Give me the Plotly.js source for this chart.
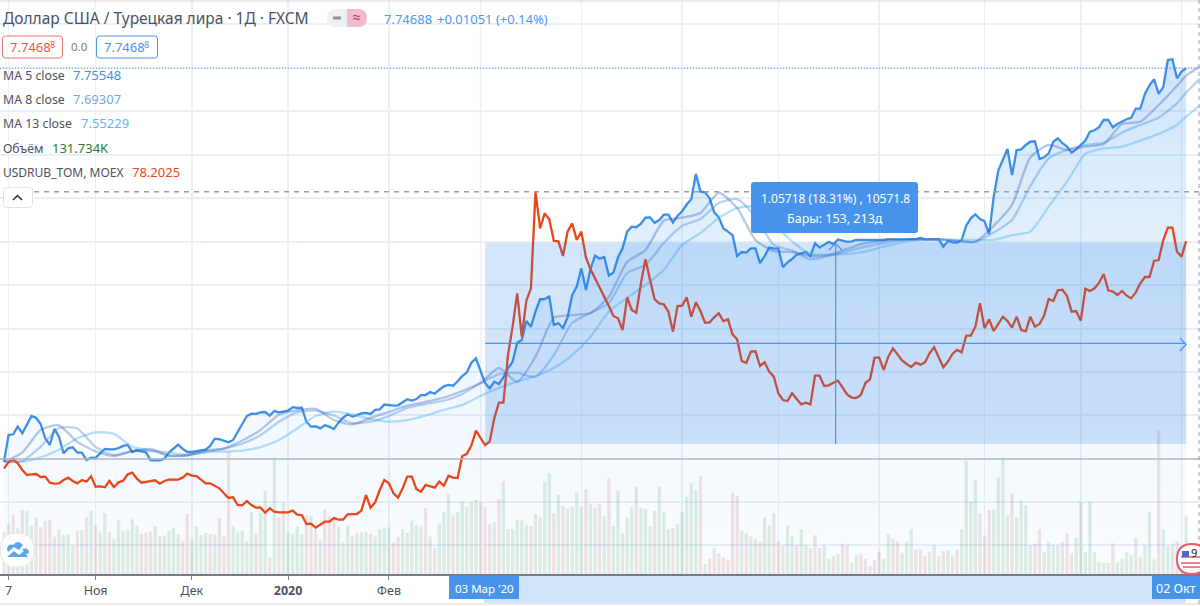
<!DOCTYPE html>
<html><head><meta charset="utf-8">
<script src="https://cdn.plot.ly/plotly-3.0.1.min.js"></script>
<style>html,body{margin:0;padding:0;background:#fff;overflow:hidden}#c{width:1200px;height:606px}</style>
</head><body><div id="c"></div>
<script>
// ---------- data (one value per daily bar) ----------
const usdtry = [5.681,5.821,5.825,5.865,5.830,5.874,5.921,5.912,5.879,5.804,5.769,5.853,5.812,5.725,5.751,5.757,5.729,5.729,5.690,5.702,5.701,5.725,5.748,5.746,5.746,5.753,5.764,5.769,5.732,5.741,5.737,5.730,5.688,5.690,5.688,5.697,5.729,5.751,5.771,5.748,5.732,5.732,5.736,5.743,5.744,5.764,5.802,5.799,5.793,5.783,5.795,5.839,5.879,5.921,5.933,5.932,5.940,5.942,5.923,5.947,5.940,5.944,5.949,5.967,5.963,5.965,5.891,5.865,5.867,5.856,5.872,5.865,5.853,5.886,5.912,5.930,5.918,5.926,5.935,5.937,5.932,5.953,5.956,5.981,5.979,5.975,5.977,
5.993,6.009,6.002,6.010,6.031,6.031,6.047,6.038,6.059,6.077,6.084,6.080,6.103,6.131,6.149,6.201,6.224,6.157,6.093,6.066,6.101,6.089,6.124,6.171,6.206,6.306,6.320,6.420,6.390,6.469,6.534,6.535,6.548,6.399,6.408,6.383,6.439,6.556,6.600,6.696,6.583,6.693,6.763,6.747,6.756,6.658,6.674,6.754,6.801,6.889,6.915,6.912,6.931,6.962,6.964,6.936,6.950,6.978,6.978,6.936,6.973,6.996,7.031,7.059,7.192,7.099,7.095,7.064,6.990,6.964,6.906,6.889,6.871,6.761,6.782,6.779,6.801,6.801,6.723,6.761,6.805,6.801,6.800,6.702,6.728,6.745,6.768,
6.775,6.782,6.761,6.828,6.805,6.821,6.836,6.824,6.847,6.842,6.835,6.838,6.845,6.845,6.845,6.845,6.843,6.842,6.845,6.850,6.848,6.848,6.848,6.850,6.850,6.850,6.856,6.848,6.848,6.850,6.850,6.810,6.840,6.833,6.831,6.845,6.920,6.959,6.980,6.955,6.943,6.876,7.072,7.209,7.265,7.323,7.186,7.317,7.321,7.344,7.361,7.363,7.270,7.279,7.300,7.361,7.379,7.353,7.335,7.304,7.321,7.344,7.367,7.414,7.421,7.437,7.475,7.475,7.437,7.454,7.466,7.479,7.486,7.535,7.535,7.612,7.657,7.689,7.612,7.647,7.790,7.794,7.694,7.729,7.747];

const usdrub = [64.56,64.92,65.10,64.86,64.46,64.16,64.20,64.22,64.04,64.06,63.70,63.64,63.66,63.86,64.00,63.80,63.66,63.86,63.76,64.08,63.46,63.48,63.42,63.80,63.44,63.72,63.82,64.20,64.30,63.94,63.70,63.74,63.76,63.84,63.64,63.80,63.88,63.88,63.88,64.00,64.24,64.12,64.10,63.88,63.66,63.66,63.50,63.36,63.06,62.78,62.82,62.36,62.34,62.60,62.36,62.20,62.20,61.90,62.16,61.96,61.92,61.92,61.92,62.02,61.78,61.76,61.22,61.24,61.00,61.18,61.36,61.36,61.58,61.48,61.48,61.80,61.80,61.82,62.02,62.96,62.20,62.52,63.26,63.86,63.66,63.06,62.80,
63.36,64.06,64.06,63.32,63.16,63.56,63.48,63.40,63.76,63.52,64.12,64.00,63.98,65.30,65.42,65.92,66.82,66.36,65.96,66.16,67.56,68.50,68.50,71.36,73.06,75.06,72.46,74.62,75.36,81.16,78.96,79.86,79.50,78.20,78.18,77.30,78.76,79.26,78.26,78.76,77.22,76.50,75.96,75.46,74.86,74.30,73.70,73.56,72.86,74.82,74.06,73.90,75.66,77.10,75.86,74.70,74.46,74.40,73.96,72.76,74.30,74.32,74.82,73.66,74.52,74.00,73.30,73.32,73.62,73.86,73.40,73.50,72.60,72.30,71.00,70.88,71.56,71.58,70.70,70.92,70.36,70.06,69.06,68.66,68.60,69.06,68.72,
68.40,68.50,68.40,70.12,70.12,69.50,69.54,69.70,69.82,69.42,69.00,68.80,68.78,68.96,69.68,69.90,71.20,71.20,70.46,71.26,71.76,71.40,71.04,70.82,70.64,70.90,70.78,70.92,71.46,71.82,71.26,70.62,70.96,71.42,71.66,71.52,72.52,72.52,73.06,74.46,72.96,73.50,72.80,73.26,73.66,73.40,73.00,73.66,72.86,72.78,73.66,73.06,73.22,73.72,74.72,74.60,75.24,75.28,74.90,73.96,74.00,73.42,75.34,75.20,75.36,75.70,76.22,75.24,75.16,74.96,75.20,74.92,74.76,75.12,75.66,76.04,76.04,77.00,77.06,78.26,79.00,79.00,77.56,77.26,78.2025];

const volume = [95,114,133,103,144,142,109,128,105,120,122,84,101,88,89,65,97,99,129,143,110,93,137,94,78,122,96,98,123,109,90,93,96,108,86,86,97,104,90,75,135,77,108,88,92,90,90,126,84,275,108,93,98,74,140,92,138,187,37,263,129,161,93,90,107,90,133,131,103,77,146,131,129,107,71,109,86,92,94,94,90,84,101,103,105,71,84,
101,93,120,110,107,149,84,59,114,139,181,132,140,163,152,161,167,163,150,113,116,169,209,101,101,122,122,111,108,135,128,208,227,137,179,153,147,152,183,152,191,158,149,158,131,215,108,187,92,128,151,196,149,146,108,143,197,140,101,103,113,139,174,204,189,221,23,35,59,47,38,33,183,176,97,92,84,79,72,128,110,137,74,64,109,84,65,
101,65,58,87,59,65,35,40,44,68,65,25,43,45,34,18,31,50,35,89,79,74,48,72,101,55,55,41,50,65,40,52,53,41,55,101,255,163,212,137,86,144,146,218,263,132,182,128,165,155,65,69,101,50,72,65,65,72,92,47,81,163,49,163,50,27,25,25,69,27,35,49,42,82,39,65,139,33,322,101,64,68,74,17,131.734];

const volDirs = ('d u d u d u u d d d d u d u u u d u d u d u u d u u u u u u d d d u d u u u u d d u u u u d u d d d u u u u u d u u d u d u u u u u d d d u d d d u u u d u u u d u u u u d d '+
 'u u u u u d u d u u u d u u u u u d d d u d u u u u u u d u u u u d u d u u u u d u u d u d u u u u u d u u u d u u u d u u u u u d u d d d d d d d u d u u d u u d d d u u d '+
 'u u d u d u u d u d d u u d d d d d u u d d u u u d d d u d u d u d d u u u u d d d u u u u d u u u u d d u u u u d d d u u u u u u u u d u u u u u d u u u d u u u d d u').trim().split(' ');

// moving averages, read every fourth bar (last two readings at the chart end)
const maBars = [0,4,8,12,16,20,24,28,32,36,40,44,48,52,56,60,64,68,72,76,80,84,88,92,96,100,104,108,112,116,120,124,128,132,136,140,144,148,152,156,160,164,168,172,176,180,184,188,192,196,200,204,208,212,216,220,224,228,232,236,240,244,248,252,256,258,261];
const ma5 = [5.681,5.729,5.848,5.872,5.785,5.736,5.711,5.736,5.748,5.713,5.715,5.741,5.750,5.792,5.848,5.928,5.951,5.958,5.900,5.877,5.911,5.942,5.975,5.995,6.017,6.052,6.094,6.173,6.101,6.232,6.436,6.451,6.462,6.547,6.730,6.792,6.946,6.962,6.987,7.093,7.013,6.845,6.787,6.782,6.761,6.765,6.798,6.828,6.840,6.847,6.850,6.848,6.842,6.836,6.919,7.029,7.279,7.344,7.318,7.335,7.349,7.454,7.466,7.554,7.655,7.708,7.75548];
const ma8 = [5.681,5.685,5.760,5.858,5.855,5.758,5.716,5.737,5.739,5.713,5.715,5.732,5.750,5.776,5.821,5.891,5.940,5.949,5.923,5.884,5.891,5.921,5.963,5.984,6.001,6.036,6.094,6.141,6.147,6.127,6.241,6.409,6.462,6.514,6.672,6.714,6.829,6.920,6.955,7.039,7.060,6.967,6.819,6.789,6.743,6.761,6.786,6.810,6.829,6.842,6.847,6.848,6.838,6.835,6.884,6.950,7.129,7.274,7.318,7.344,7.356,7.409,7.449,7.487,7.563,7.619,7.69307];
const ma13 = [5.681,5.681,5.704,5.744,5.804,5.835,5.827,5.760,5.739,5.729,5.716,5.732,5.734,5.739,5.758,5.795,5.856,5.921,5.944,5.930,5.904,5.891,5.900,5.923,5.953,5.979,6.026,6.068,6.101,6.131,6.173,6.241,6.337,6.469,6.541,6.609,6.688,6.819,6.882,6.961,7.013,7.020,6.934,6.836,6.772,6.768,6.772,6.784,6.810,6.833,6.845,6.848,6.845,6.845,6.845,6.871,6.889,7.020,7.151,7.297,7.326,7.335,7.367,7.402,7.449,7.493,7.55229];

const tickBars = [1,20,41,62,84,126,148,169,191,214,235];
const tickText = ['7','Ноя','Дек','<b>2020</b>','Фев','Апр','Май','Июн','Июл','Авг','Сен'];
const gridOnlyBars = [104,257];
const gridPrices = [7.979,7.748,7.522,7.291,7.066,6.835,6.609,6.378,6.152,5.926,5.47,5.244];
const rangeBars = [105,258];
const rangePrices = [5.774,6.831];
const lastPrice = 7.747, peakRub = 81.16, sepPrice = 5.695;

// ---------- helpers: pixel positions of the chrome (legend, badges, icons) ----------
const W = 1200, PH = 574;
const px = x => x / W, py = y => 1 - y / PH;
const FONT = '"Noto Sans", sans-serif';
const bars = usdtry.map((_, i) => i);
const ann = [], shp = [];
function T(text, x, y, color, size, anchor) {
  ann.push({xref:'paper', yref:'paper', x:px(x), y:py(y), text, showarrow:false, xanchor:anchor||'left', yanchor:'middle',
    font:{family:FONT, size:size||13, color:color||'#4c525e'}, borderpad:0, borderwidth:0});
}
function P(path, fill, line, lw, dash) {
  const s = path.replace(/(-?[\d.]+),(-?[\d.]+)/g, (_, a, b) => px(+a) + ',' + py(+b));
  shp.push({type:'path', xref:'paper', yref:'paper', path:s, fillcolor:fill||'rgba(0,0,0,0)', line:{color:line||'rgba(0,0,0,0)', width:lw||0, dash:dash||'solid'}, layer:'above'});
}
function RR(x0, y0, x1, y1, r, fill, line, lw) {
  P(`M${x0+r},${y0} L${x1-r},${y0} Q${x1},${y0} ${x1},${y0+r} L${x1},${y1-r} Q${x1},${y1} ${x1-r},${y1} L${x0+r},${y1} Q${x0},${y1} ${x0},${y1-r} L${x0},${y0+r} Q${x0},${y0} ${x0+r},${y0} Z`, fill, line, lw);
}
function CIRC(cx, cy, r, fill, line, lw) {
  RR(cx-r, cy-r, cx+r, cy+r, r, fill, line, lw);
}

// ---------- traces ----------
const traces = [
 {type:'bar', x:bars, y:volume, width:0.72, yaxis:'y', hoverinfo:'skip',
  marker:{color:volDirs.map(d => d === 'u' ? 'rgba(70,150,90,0.17)' : 'rgba(170,70,90,0.15)'), line:{width:0}}},
 {type:'scatter', mode:'lines', x:bars, y:usdtry, yaxis:'y2', line:{color:'#3d8fe8', width:2.3}, fill:'tozeroy', hoverinfo:'skip',
  fillcolor:'rgba(33,150,243,0.1)',
  fillgradient:{type:'vertical', start:5.09, stop:7.8, colorscale:[[0,'rgba(33,135,235,0.02)'],[0.45,'rgba(33,135,235,0.08)'],[1,'rgba(33,135,235,0.22)']]}},
 {type:'scatter', mode:'lines', x:maBars, y:ma13, yaxis:'y2', line:{color:'rgba(90,185,245,0.45)', width:2.3, shape:'spline', smoothing:0.6}, hoverinfo:'skip'},
 {type:'scatter', mode:'lines', x:maBars, y:ma8, yaxis:'y2', line:{color:'rgba(70,140,225,0.38)', width:2.3, shape:'spline', smoothing:0.6}, hoverinfo:'skip'},
 {type:'scatter', mode:'lines', x:maBars, y:ma5, yaxis:'y2', line:{color:'rgba(50,95,180,0.35)', width:2.3, shape:'spline', smoothing:0.6}, hoverinfo:'skip'},
 {type:'scatter', mode:'lines', x:bars, y:usdrub, yaxis:'y3', line:{color:'#e8471a', width:2.3}, hoverinfo:'skip'}
];

// ---------- grid lines that carry no label, range box, level lines ----------
gridOnlyBars.forEach(b => shp.push({type:'line', xref:'x', yref:'paper', x0:b, x1:b, y0:0, y1:1, line:{color:'#e9f0f6', width:1.5}, layer:'below'}));
const boxMid = (rangePrices[0] + rangePrices[1]) / 2, barMid = (rangeBars[0] + rangeBars[1]) / 2;
shp.push({type:'rect', xref:'x', yref:'y2', x0:rangeBars[0], x1:rangeBars[1], y0:rangePrices[0], y1:rangePrices[1], fillcolor:'rgba(33,125,235,0.2)', line:{width:0}, layer:'above'});
shp.push({type:'line', xref:'x', yref:'y2', x0:rangeBars[0], x1:rangeBars[1], y0:boxMid, y1:boxMid, line:{color:'#4a94ec', width:1.2}, layer:'above'});
shp.push({type:'line', xref:'x', yref:'y2', x0:barMid, x1:barMid, y0:rangePrices[0], y1:rangePrices[1], line:{color:'#4a94ec', width:1.2}, layer:'above'});
P('M1180,338 L1186,344.5 L1180,351', null, '#4a94ec', 1.2);
P('M829,250 L835.5,243.5 L842,250', null, '#4a94ec', 1.2);
shp.push({type:'line', xref:'paper', yref:'y3', x0:px(34), x1:1, y0:peakRub, y1:peakRub, line:{color:'#9a9ea8', width:1.5, dash:'5px,5px'}, layer:'above'});
shp.push({type:'line', xref:'paper', yref:'y2', x0:0, x1:1, y0:lastPrice, y1:lastPrice, line:{color:'#4a9af0', width:1, dash:'1px,2px'}, layer:'above'});
shp.push({type:'line', xref:'paper', yref:'y2', x0:0, x1:1, y0:sepPrice, y1:sepPrice, line:{color:'#b2b5be', width:1.5}, layer:'above'});
// frame
P('M0,1 L1200,1', null, '#e0e3eb', 1.5);
P('M0,604 L1200,604', null, '#e0e3eb', 1.5);
P('M1199,0 L1199,604', null, '#9a9ea8', 1, '4px,4px');

// ---------- time-axis selection ----------
P('M484,576 L1186,576 L1186,603 L484,603 Z', '#cfe5fb');
P('M449,576 L519,576 L519,599 L449,599 Z', '#4894ec');
P('M1152,576 L1200,576 L1200,599 L1152,599 Z', '#4894ec');
T("03 Мар '20", 484, 588, '#ffffff', 11.5, 'center');
T('02 Окт', 1176, 588, '#ffffff', 12.5, 'center');

// ---------- measure tooltip ----------
RR(751, 182, 918, 233, 3, '#4894ec');
T('1.05718 (18.31%) , 10571.8', 835, 198, '#ffffff', 12, 'center');
T('Бары: 153, 213д', 835, 218, '#ffffff', 12.5, 'center');

// ---------- legend block ----------
T('Доллар США / Турецкая лира · 1Д · FXCM', 3, 18, '#4c525e', 15.5);
RR(327, 9, 367, 27, 9, '#eef0f3');
P('M347,9 L358,9 Q367,9 367,18 Q367,27 358,27 L347,27 Z', '#f4bccb');
P('M333,18 L341,18', null, '#8f939c', 3);
T('≈', 357, 17, '#a62b57', 14, 'center');
T('7.74688', 384, 19, '#4a9af0', 13);
T('+0.01051 (+0.14%)', 437, 19, '#4a9af0', 13);
RR(2.5, 36, 62.5, 58, 3, '#ffffff', '#e57373', 1);
T('7.7468', 10, 47, '#e2574c', 13); T('8', 50, 44, '#e2574c', 9);
T('0.0', 71, 47, '#787b86', 11.5);
RR(96.5, 36, 157.5, 58, 3, '#ffffff', '#4a94ec', 1);
T('7.7468', 104, 47, '#4a94ec', 13); T('8', 144, 44, '#4a94ec', 9);
T('MA 5 close', 3, 75, '#4c525e', 12.3); T('7.75548', 73, 75, '#4a8ae8', 13);
T('MA 8 close', 3, 99, '#4c525e', 12.3); T('7.69307', 73, 99, '#6ea9ea', 13);
T('MA 13 close', 3, 123, '#4c525e', 12.3); T('7.55229', 81, 123, '#64b5f6', 13);
T('Объём', 3, 148, '#4c525e', 12.3); T('131.734K', 52, 148, '#2e7d32', 13);
T('USDRUB_TOM, MOEX', 3, 172, '#4c525e', 12); T('78.2025', 132, 172, '#e8471a', 13);
RR(3.5, 187.5, 32.5, 207.5, 3, '#ffffff', '#e0e3eb', 1);
P('M13,200 L17.5,195.5 L22,200', null, '#2a2e39', 1.5);

// ---------- corner icons ----------
CIRC(17, 550, 17, '#ffffff', '#e6e8ee', 1);
P('M7,549 Q8,543 13,545 Q18,539 23,545 L19,550 L14,547 L8,552 Z M22,549 Q29,547 29,553 L26,554 Z', '#5aa5ee');
P('M7,557 L14,551 L19,555 L24,551 L28,557 Z', '#5aa5ee');
CIRC(1192, 559, 15, '#ffffff', '#e85a6a', 2);
P('M1181,557 L1200,557 M1181,563 L1200,563 M1183,567 L1200,567', null, '#e85a6a', 1.5);
P('M1182,551 L1189,551 L1189,557 L1182,557 Z', '#3f6fd0');
T('9', 1194, 552, '#131722', 11, 'center');

Plotly.newPlot('c', traces, {
  width:1200, height:606, margin:{l:0, r:0, t:0, b:32}, paper_bgcolor:'#ffffff', plot_bgcolor:'#ffffff',
  showlegend:false, barmode:'overlay', hovermode:false,
  xaxis:{range:[-0.873, 261.02], tickmode:'array', tickvals:tickBars, ticktext:tickText, showgrid:true, gridcolor:'#e9f0f6', gridwidth:1.5,
    ticks:'outside', ticklen:4, tickcolor:'#787b86', tickwidth:1, showline:true, linecolor:'#787b86', linewidth:1.5, zeroline:false,
    tickfont:{family:FONT, size:12.5, color:'#4c525e'}, fixedrange:true},
  yaxis:{range:[0, 1291.5], showgrid:false, zeroline:false, showticklabels:false, ticks:'', fixedrange:true},
  yaxis2:{overlaying:'y', side:'left', range:[5.0915, 8.105], tickmode:'array', tickvals:gridPrices, showticklabels:false, ticks:'', showgrid:true, gridcolor:'#e9f0f6', gridwidth:1.5, zeroline:false, fixedrange:true},
  yaxis3:{overlaying:'y', side:'right', range:[58.22, 92.66], showgrid:false, showticklabels:false, ticks:'', zeroline:false, fixedrange:true},
  shapes:shp, annotations:ann
}, {displayModeBar:false, staticPlot:true});
</script></body></html>
